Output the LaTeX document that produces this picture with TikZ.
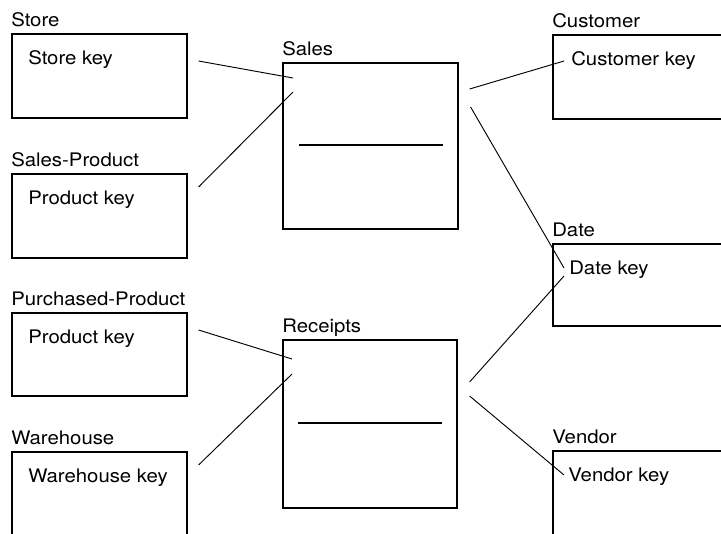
\documentclass[tikz,border=0pt]{standalone}
\usepackage{fontspec}
\setmainfont[FakeStretch=1.09]{TeX Gyre Heros}
\usetikzlibrary{calc}

\begin{document}
\begin{tikzpicture}[x=0.75pt,y=-0.75pt,
    tbl/.style={draw,line width=1.2pt,anchor=north west,inner sep=0pt,
                minimum width=131.25pt,minimum height=63pt},
    txt/.style={anchor=base west,inner sep=0pt,font=\fontsize{14}{16}\selectfont},
    link/.style={line width=0.7pt}]
  \useasboundingbox (0,0) rectangle (721,533);
  \clip (0,0) rectangle (721,533);

  % dimension tables, left
  \node[tbl] (store) at (11,33) {};
  \node[tbl] (sprod) at (11,173) {};
  \node[tbl,minimum height=62.25pt] (pprod) at (11,312) {};
  \node[tbl,minimum height=75pt] (wareh) at (11,451) {};
  % fact tables
  \node[tbl,minimum height=124.5pt] (sales) at (282,62) {};
  \node[tbl,minimum width=130.5pt,minimum height=126pt] (rcpt) at (282,339) {};
  % dimension tables, right
  \node[tbl,minimum width=150pt] (cust) at (552,34) {};
  \node[tbl,minimum width=150pt,minimum height=61.5pt] (date) at (552,243) {};
  \node[tbl,minimum width=150pt,minimum height=75pt] (vend) at (552,450) {};

  \node[txt] (storeL) at ($(store.north west)+(0,-6.5)$) {Store};
  \node[txt] (sprodL) at ($(sprod.north west)+(0,-6.5)$) {Sales-Product};
  \node[txt] (pprodL) at ($(pprod.north west)+(0,-6.5)$) {Purchased-Product};
  \node[txt] (warehL) at ($(wareh.north west)+(0,-6.5)$) {Warehouse};
  \node[txt] (salesL) at ($(sales.north west)+(0,-6.5)$) {Sales};
  \node[txt] (rcptL) at ($(rcpt.north west)+(0,-6.5)$) {Receipts};
  \node[txt] (custL) at ($(cust.north west)+(0,-6.5)$) {Customer};
  \node[txt] (dateL) at ($(date.north west)+(0,-6.5)$) {Date};
  \node[txt] (vendL) at ($(vend.north west)+(0,-6.5)$) {Vendor};

  \node[txt] (storeK) at ($(store.north west)+(17,31)$) {Store key};
  \node[txt] (sprodK) at ($(sprod.north west)+(17,31)$) {Product key};
  \node[txt] (pprodK) at ($(pprod.north west)+(17,31)$) {Product key};
  \node[txt] (warehK) at ($(wareh.north west)+(17,31)$) {Warehouse key};
  \node[txt] (custK) at ($(cust.north west)+(19,31)$) {Customer key};
  \node[txt] (dateK) at ($(date.north west)+(17,31)$) {Date key};
  \node[txt] (vendK) at ($(vend.north west)+(16,31)$) {Vendor key};

  % divider lines in the fact tables
  \draw[line width=1.2pt] ($(sales.north west)+(17,83)$) -- ($(sales.north east)+(-16,83)$);
  \draw[line width=1.2pt] ($(rcpt.north west)+(16,84)$) -- ($(rcpt.north east)+(-16,84)$);

  % key ends
  \coordinate (s1) at ($(store.north east)+(11,28)$);
  \coordinate (s2) at ($(sprod.north east)+(11,14)$);
  \coordinate (p1) at ($(pprod.north east)+(11,18)$);
  \coordinate (w1) at ($(wareh.north east)+(11,14)$);
  \coordinate (sa1) at ($(sales.north west)+(11,16)$);
  \coordinate (sa2) at ($(sales.north west)+(11,30)$);
  \coordinate (sa3) at ($(sales.north east)+(11,27)$);
  \coordinate (sa4) at ($(sales.north east)+(12,45)$);
  \coordinate (r1) at ($(rcpt.north west)+(10,20)$);
  \coordinate (r2) at ($(rcpt.north west)+(10,35)$);
  \coordinate (r3) at ($(rcpt.north east)+(12,43)$);
  \coordinate (r4) at ($(rcpt.north east)+(12,57)$);
  \coordinate (c1) at ($(cust.north west)+(12,27)$);
  \coordinate (d1) at ($(date.north west)+(12,25)$);
  \coordinate (d2) at ($(date.north west)+(12,33)$);
  \coordinate (v1) at ($(vend.north west)+(12,25)$);

  \draw[link] (s1) -- (sa1);
  \draw[link] (s2) -- (sa2);
  \draw[link] (sa3) -- (c1);
  \draw[link] (sa4) -- (d1);
  \draw[link] (p1) -- (r1);
  \draw[link] (w1) -- (r2);
  \draw[link] (r3) -- (d2);
  \draw[link] (r4) -- (v1);
\end{tikzpicture}
\end{document}
